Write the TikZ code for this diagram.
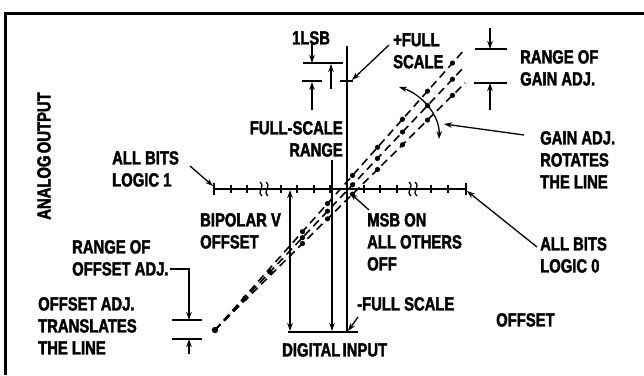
\documentclass[tikz,border=0pt]{standalone}
\usepackage{fontspec}
\newfontfamily\cond{Liberation Sans Bold}[FakeStretch=0.78,FakeBold=2]
\usetikzlibrary{arrows.meta,calc}
\begin{document}
\begin{tikzpicture}[x=1pt,y=-1pt,
  lbl/.style={font=\cond\fontsize{19}{22}\selectfont, inner sep=0pt, align=left},
  ax/.style={line width=1.8pt},
  thn/.style={line width=1.3pt},
  arr/.style={line width=1.3pt, -{Stealth[length=8pt,width=5.5pt]}},
  darr/.style={line width=1.3pt, {Stealth[length=8pt,width=5.5pt]}-{Stealth[length=8pt,width=5.5pt]}},
  dl/.style={line width=1.6pt, dash pattern=on 8pt off 5pt}]
\useasboundingbox (0,0) rectangle (644,375);
% frame
\coordinate (fTL) at (5,13); \coordinate (fTR) at (644,13); \coordinate (fBL) at (5,375);
\draw[line width=3pt] (fTR) -- (fTL) -- (fBL);
% axes
\coordinate (yT) at (347,46); \coordinate (yB) at (347,333);
\draw[ax] (yT) -- (yB);
\coordinate (xL) at (214,189); \coordinate (xR) at (466,189);
\draw[ax] (xL) -- (xR);
\foreach \t in {231,247,281,297,314,330,364,380,397,431,448}
  \draw[thn] (\t,185) -- (\t,193);
\draw[thn] (214,183) -- (214,195);
\draw[thn] (466,183) -- (466,195);
\foreach \s in {264,413} {
  \foreach \o in {-3,3}
    \draw[thn] (\s+\o+1,196) .. controls (\s+\o-5,191) and (\s+\o+5,187) .. (\s+\o-1,182);
}
% bottom line
\coordinate (bL) at (288,332); \coordinate (bR) at (358,332);
\draw[line width=1.5pt] (bL) -- (bR);
% transfer lines
\coordinate (P) at (215,330);
\coordinate (Ea) at (465,49); \coordinate (Eb) at (465,66); \coordinate (Ec) at (465,83);
\foreach \e in {Ea,Eb,Ec} {
  \draw[dl] (P) -- (\e);
  \foreach \t in {0.35,0.45,...,1.01}
    \fill ($(P)!\t!(\e)$) circle (2.6pt);
}
\foreach \t in {0.12,0.22} \fill ($(P)!\t!(Eb)$) circle (2.8pt);
\fill (P) circle (3.2pt);
% gain adjust arc
\coordinate (gA) at (399,87); \coordinate (gB) at (439,139);
\draw[darr] (gA) .. controls (421,94) and (440,115) .. (gB);
% labels
\node[lbl, anchor=north] (lsb) at (311,31) {1LSB};
\node[lbl, anchor=north west] (pfs) at (393,33) {+FULL\\SCALE};
\node[lbl, anchor=north west] (rga) at (520,50) {RANGE OF\\GAIN ADJ.};
\node[lbl, anchor=north east, align=right] (fsr) at (343,121) {FULL-SCALE\\RANGE};
\node[lbl, anchor=north west] (gar) at (540,131) {GAIN ADJ.\\ROTATES\\THE LINE};
\node[lbl, anchor=north west] (ab1) at (112,151) {ALL BITS\\LOGIC 1};
\node[lbl, anchor=north west] (bpo) at (200,213) {BIPOLAR V\\OFFSET};
\node[lbl, anchor=north west] (msb) at (367,213) {MSB ON\\ALL OTHERS\\OFF};
\node[lbl, anchor=north west] (ab0) at (540,237) {ALL BITS\\LOGIC 0};
\node[lbl, anchor=north west] (roa) at (72,240) {RANGE OF\\OFFSET ADJ.};
\node[lbl, anchor=north west] (mfs) at (357,297) {-FULL SCALE};
\node[lbl, anchor=north west] (oat) at (38,297) {OFFSET ADJ.\\TRANSLATES\\THE LINE};
\node[lbl, anchor=north west] (ofs) at (496,313) {OFFSET};
\node[lbl, anchor=north west] (din) at (282,343) {DIGITAL\hspace{0.12em}INPUT};
\node[lbl, rotate=90] (aout) at (44,156) {ANALOG\hspace{0.12em}OUTPUT};
% 1 LSB dimension
\coordinate (l1a) at (303,63); \coordinate (l1b) at (343,63);
\coordinate (l2a) at (302,81); \coordinate (l2b) at (322,81);
\coordinate (fsa) at (340,81); \coordinate (fsb) at (353,81);
\draw[thn] (l1a) -- (l1b);
\draw[thn] (l2a) -- (l2b);
\draw[thn] (fsa) -- (fsb);
\coordinate (a1s) at (312,44); \coordinate (a1e) at (312,63);
\draw[arr] (a1s) -- (a1e);
\coordinate (a2s) at (331,89); \coordinate (a2e) at (331,64);
\draw[arr] (a2s) -- (a2e);
\coordinate (a3s) at (312,110); \coordinate (a3e) at (312,82);
\draw[arr] (a3s) -- (a3e);
% full scale range lower arrow
\coordinate (frs) at (332,160); \coordinate (fre) at (332,331);
\draw[arr] (frs) -- (fre);
% bipolar offset
\coordinate (bos) at (290,190); \coordinate (boe) at (290,331);
\draw[darr] (bos) -- (boe);
% +full scale pointer
\coordinate (pfa) at (389,45); \coordinate (pfb) at (352,80);
\draw[arr] (pfa) -- (pfb);
% -full scale pointer
\coordinate (mfa) at (358,317); \coordinate (mfb) at (348,331);
\draw[arr] (mfa) -- (mfb);
% all bits logic 1
\coordinate (a1a) at (190,166); \coordinate (a1b) at (213,186);
\draw[arr] (a1a) -- (a1b);
% MSB on
\coordinate (msa) at (369,210); \coordinate (msbp) at (350,193);
\draw[arr] (msa) -- (msbp);
% all bits logic 0
\coordinate (a0a) at (537,247); \coordinate (a0b) at (467,191);
\draw[arr] (a0a) -- (a0b);
% gain adj pointer
\coordinate (gpa) at (524,135); \coordinate (gpb) at (444,124);
\draw[arr] (gpa) -- (gpb);
% range of gain adj
\coordinate (rg1a) at (475,49); \coordinate (rg1b) at (507,49);
\coordinate (rg2a) at (474,83); \coordinate (rg2b) at (507,83);
\draw[thn] (rg1a) -- (rg1b);
\draw[thn] (rg2a) -- (rg2b);
\coordinate (rgd1) at (490,28); \coordinate (rgd2) at (490,49);
\draw[arr] (rgd1) -- (rgd2);
\coordinate (rgu1) at (490,110); \coordinate (rgu2) at (490,83);
\draw[arr] (rgu1) -- (rgu2);
% range of offset adj
\coordinate (ro0) at (170,269); \coordinate (ro1) at (189,269); \coordinate (ro2) at (189,320);
\draw[arr] (ro0) -- (ro1) -- (ro2);
\coordinate (ro3a) at (172,320); \coordinate (ro3b) at (202,320);
\coordinate (ro4a) at (172,339); \coordinate (ro4b) at (202,339);
\draw[thn] (ro3a) -- (ro3b);
\draw[thn] (ro4a) -- (ro4b);
\coordinate (rou1) at (189,354); \coordinate (rou2) at (189,339);
\draw[arr] (rou1) -- (rou2);
\end{tikzpicture}
\end{document}
